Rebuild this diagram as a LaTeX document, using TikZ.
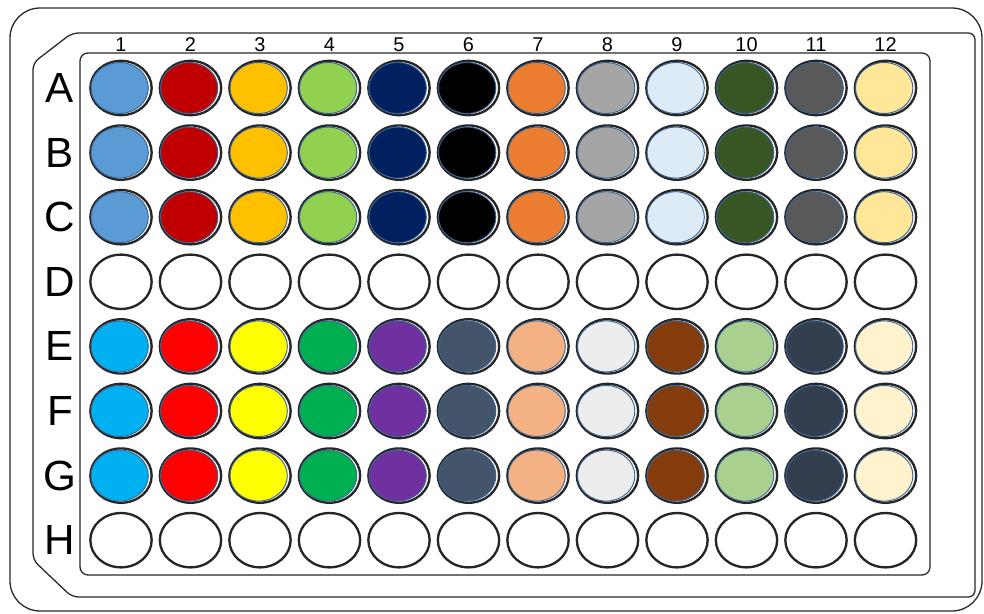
\documentclass[tikz,border=0pt]{standalone}
\usepackage{fontspec}
\setmainfont{Liberation Sans}
\usetikzlibrary{shapes.geometric}
\definecolor{wellrim}{RGB}{58,100,148}
\definecolor{platerim}{RGB}{40,40,40}
% rows A--C
\definecolor{steelblue}{RGB}{91,155,213}
\definecolor{darkred}{RGB}{192,0,0}
\definecolor{amber}{RGB}{255,192,0}
\definecolor{lime}{RGB}{146,208,80}
\definecolor{navyblue}{RGB}{0,32,96}
\definecolor{inkblack}{RGB}{0,0,0}
\definecolor{tangerine}{RGB}{237,125,49}
\definecolor{midgrey}{RGB}{165,165,165}
\definecolor{paleblue}{RGB}{221,235,247}
\definecolor{forest}{RGB}{55,86,35}
\definecolor{charcoal}{RGB}{89,89,89}
\definecolor{cream}{RGB}{255,230,153}
% rows E--G
\definecolor{skyblue}{RGB}{0,176,240}
\definecolor{brightred}{RGB}{255,0,0}
\definecolor{lemon}{RGB}{255,255,0}
\definecolor{emerald}{RGB}{0,176,80}
\definecolor{violet}{RGB}{112,48,160}
\definecolor{slate}{RGB}{68,84,106}
\definecolor{peach}{RGB}{244,177,131}
\definecolor{lightgrey}{RGB}{237,237,237}
\definecolor{rust}{RGB}{132,60,12}
\definecolor{sage}{RGB}{169,208,142}
\definecolor{darkslate}{RGB}{51,63,79}
\definecolor{ivory}{RGB}{255,242,204}
\tikzset{
  plate/.style={
    draw=platerim,
    line width=1.1pt
  },
  well/.style={
    ellipse,
    draw=black!85,
    line width=2pt,
    minimum width=18.4mm,
    minimum height=16.3mm,
    inner sep=0pt
  },
  liquid/.style={
    ellipse,
    draw=wellrim,
    line width=0.8pt,
    minimum width=17.2mm,
    minimum height=15.3mm,
    inner sep=0pt
  },
  rowlabel/.style={
    font=\fontsize{36}{36}\selectfont,
    inner sep=0pt
  },
  collabel/.style={
    font=\fontsize{17}{17}\selectfont,
    inner sep=0pt
  }
}
\begin{document}
\begin{tikzpicture}[x=0.3mm,y=0.3mm]
\useasboundingbox (0,0) rectangle (984,613);
% plate outline
\draw[plate,rounded corners=9mm] (10,2) rectangle (982,605);
\draw[plate,rounded corners=2mm] (72,580) -- (975,580) -- (975,16) -- (72,16)
  -- (33,53) -- (33,550) -- cycle;
\draw[plate,rounded corners=2.4mm] (80,38) rectangle (930,560);
% labels and wells
\foreach \c in {1,...,12}
  \node[collabel] (col-\c) at ({121+69.5*(\c-1)},568) {\c};
\foreach \r [count=\i from 0] in {A,B,C,D,E,F,G,H} {
  \node[rowlabel] (row-\r) at (60,{525-64.6*\i}) {\r};
  \foreach \c in {1,...,12}
    \node[well] (well-\r\c) at ({121+69.5*(\c-1)},{525-64.6*\i}) {};
}
% samples
\foreach \col [count=\c] in {steelblue,darkred,amber,lime,navyblue,inkblack,
    tangerine,midgrey,paleblue,forest,charcoal,cream}
  \foreach \r in {A,B,C}
    \node[liquid,fill=\col] (fill-\r\c) at ([xshift=-0.4mm]well-\r\c.center) {};
\foreach \col [count=\c] in {skyblue,brightred,lemon,emerald,violet,slate,
    peach,lightgrey,rust,sage,darkslate,ivory}
  \foreach \r in {E,F,G}
    \node[liquid,fill=\col] (fill-\r\c) at ([xshift=-0.4mm]well-\r\c.center) {};
\end{tikzpicture}
\end{document}
